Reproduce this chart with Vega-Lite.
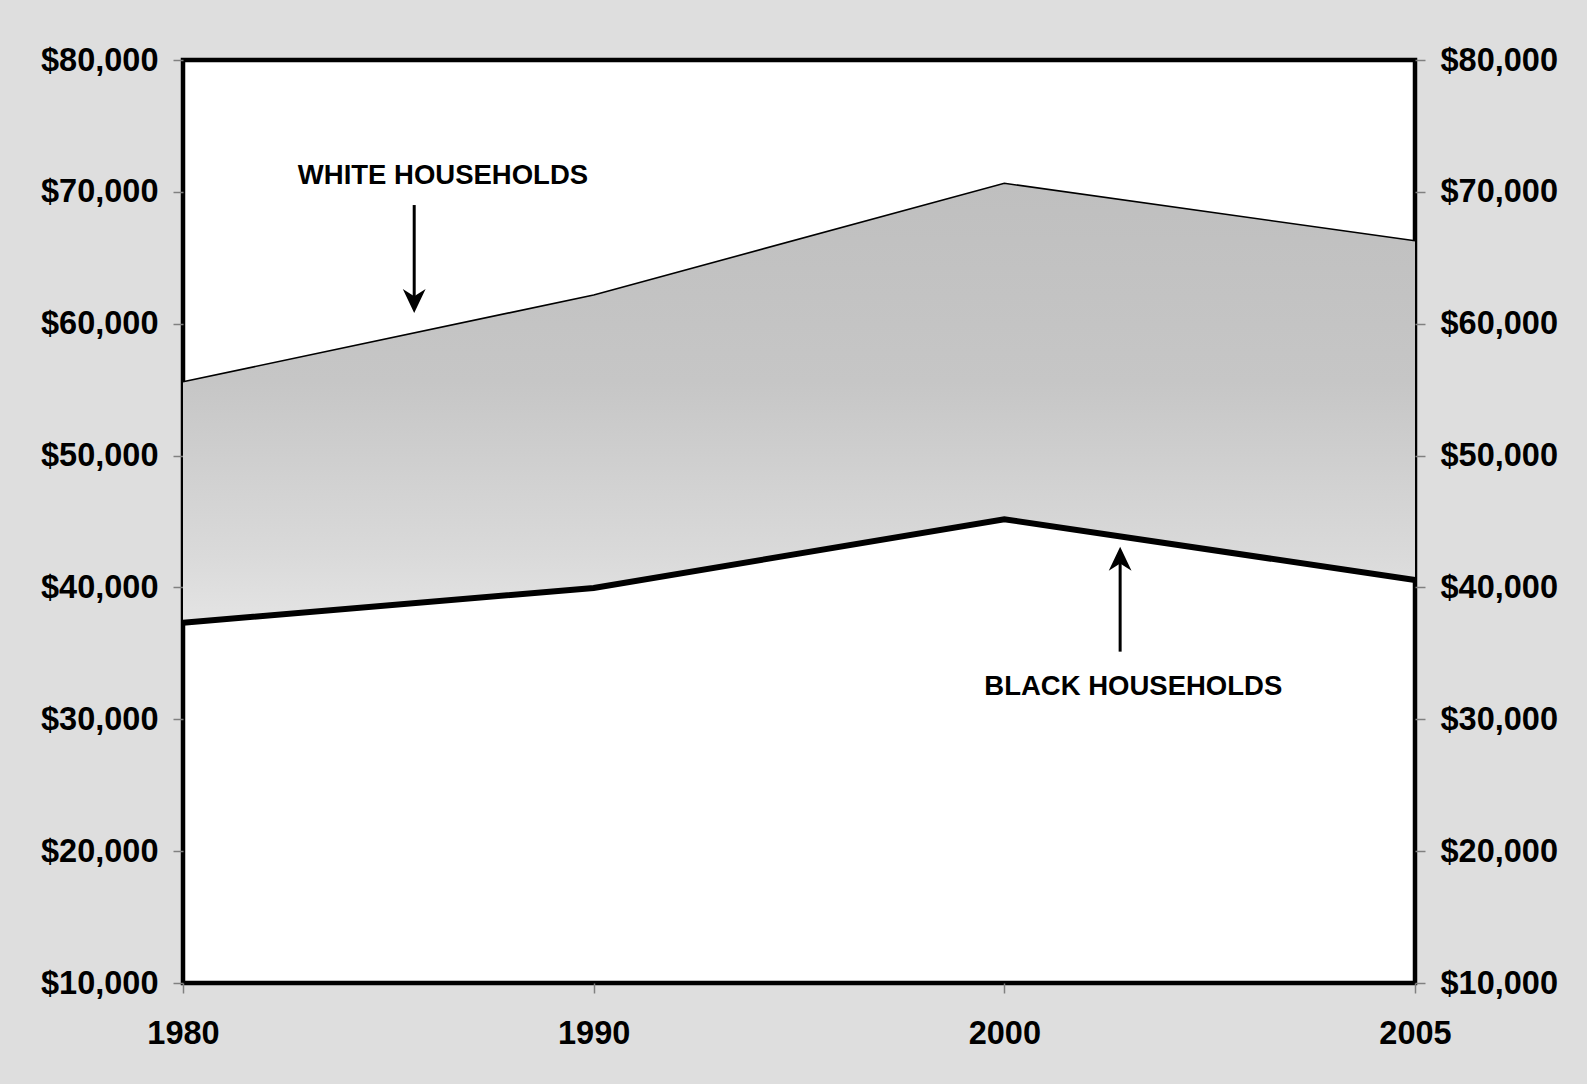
{
  "$schema": "https://vega.github.io/schema/vega-lite/v6.json",
  "width": 1232,
  "height": 923,
  "autosize": {"type": "none"},
  "padding": {"left": 183, "top": 60, "right": 172, "bottom": 101},
  "background": "#dedede",
  "config": {
    "font": "Liberation Sans",
    "view": {"stroke": "#000000", "strokeWidth": 4.5, "fill": "#ffffff"},
    "axis": {
      "labelFont": "Liberation Sans",
      "labelFontSize": 32.5,
      "labelFontWeight": "bold",
      "labelColor": "#000000",
      "tickColor": "#808080",
      "tickWidth": 1.5,
      "tickSize": 10,
      "domain": false,
      "grid": false,
      "title": null
    }
  },
  "datasets": {
    "income": [
      {"year": 1980, "white": 55600, "black": 37320},
      {"year": 1990, "white": 62180, "black": 39960},
      {"year": 2000, "white": 70650, "black": 45170},
      {"year": 2005, "white": 66290, "black": 40560}
    ],
    "labels": [
      {"label": "WHITE HOUSEHOLDS", "x": 1986.33, "y": 71200},
      {"label": "BLACK HOUSEHOLDS", "x": 2001.57, "y": 32470}
    ],
    "arrows": [
      {"x": 1985.63, "from": 69000, "to": 61720, "dir": "down"},
      {"x": 2001.41, "from": 35130, "to": 42180, "dir": "up"}
    ]
  },
  "encoding": {
    "x": {
      "field": "year",
      "type": "quantitative",
      "scale": {"type": "linear", "domain": [1980, 2000, 2005], "range": [0, 821.33, 1232], "nice": false, "zero": false},
      "axis": {"values": [1980, 1990, 2000, 2005], "format": "d", "labelPadding": 24, "labelFlush": false, "title": null}
    }
  },
  "layer": [
    {
      "data": {"name": "income"},
      "mark": {
        "type": "area",
        "fill": {
          "gradient": "linear",
          "x1": 0, "y1": 0, "x2": 0, "y2": 1,
          "stops": [
            {"offset": 0, "color": "#bfbfbf"},
            {"offset": 0.45, "color": "#c6c6c6"},
            {"offset": 0.85, "color": "#dadada"},
            {"offset": 1, "color": "#e4e4e4"}
          ]
        }
      },
      "encoding": {
        "y": {
          "field": "white",
          "type": "quantitative",
          "scale": {"domain": [10000, 80000], "nice": false, "zero": false},
          "axis": {"orient": "left", "values": [10000, 20000, 30000, 40000, 50000, 60000, 70000, 80000], "format": "$,d", "labelPadding": 15, "title": null}
        },
        "y2": {"field": "black"}
      }
    },
    {
      "data": {"name": "income"},
      "mark": {"type": "line", "color": "#000000", "strokeWidth": 1.6},
      "encoding": {
        "y": {"field": "white", "type": "quantitative", "axis": null}
      }
    },
    {
      "data": {"name": "income"},
      "mark": {"type": "line", "color": "#000000", "strokeWidth": 6, "strokeJoin": "miter"},
      "encoding": {
        "y": {
          "field": "black",
          "type": "quantitative",
          "axis": {"orient": "right", "values": [10000, 20000, 30000, 40000, 50000, 60000, 70000, 80000], "format": "$,d", "labelPadding": 15, "title": null}
        }
      }
    },
    {
      "data": {"name": "arrows"},
      "mark": {"type": "rule", "color": "#000000", "strokeWidth": 3},
      "encoding": {
        "x": {"field": "x", "type": "quantitative"},
        "y": {"field": "from", "type": "quantitative", "axis": null},
        "y2": {"field": "to"}
      }
    },
    {
      "data": {"name": "arrows"},
      "mark": {"type": "point", "filled": true, "color": "#000000", "size": 576, "opacity": 1, "strokeWidth": 0},
      "encoding": {
        "x": {"field": "x", "type": "quantitative"},
        "y": {"field": "to", "type": "quantitative", "axis": null},
        "shape": {
          "field": "dir",
          "type": "nominal",
          "scale": {"domain": ["down", "up"], "range": ["M0,1L-0.95,-1L0,-0.4L0.95,-1Z", "M0,-1L-0.95,1L0,0.4L0.95,1Z"]},
          "legend": null
        }
      }
    },
    {
      "data": {"name": "labels"},
      "mark": {"type": "text", "font": "Liberation Sans", "fontWeight": "bold", "fontSize": 27.5, "color": "#000000", "align": "center", "baseline": "middle"},
      "encoding": {
        "x": {"field": "x", "type": "quantitative"},
        "y": {"field": "y", "type": "quantitative", "axis": null},
        "text": {"field": "label"}
      }
    }
  ],
  "resolve": {"axis": {"y": "independent"}}
}
